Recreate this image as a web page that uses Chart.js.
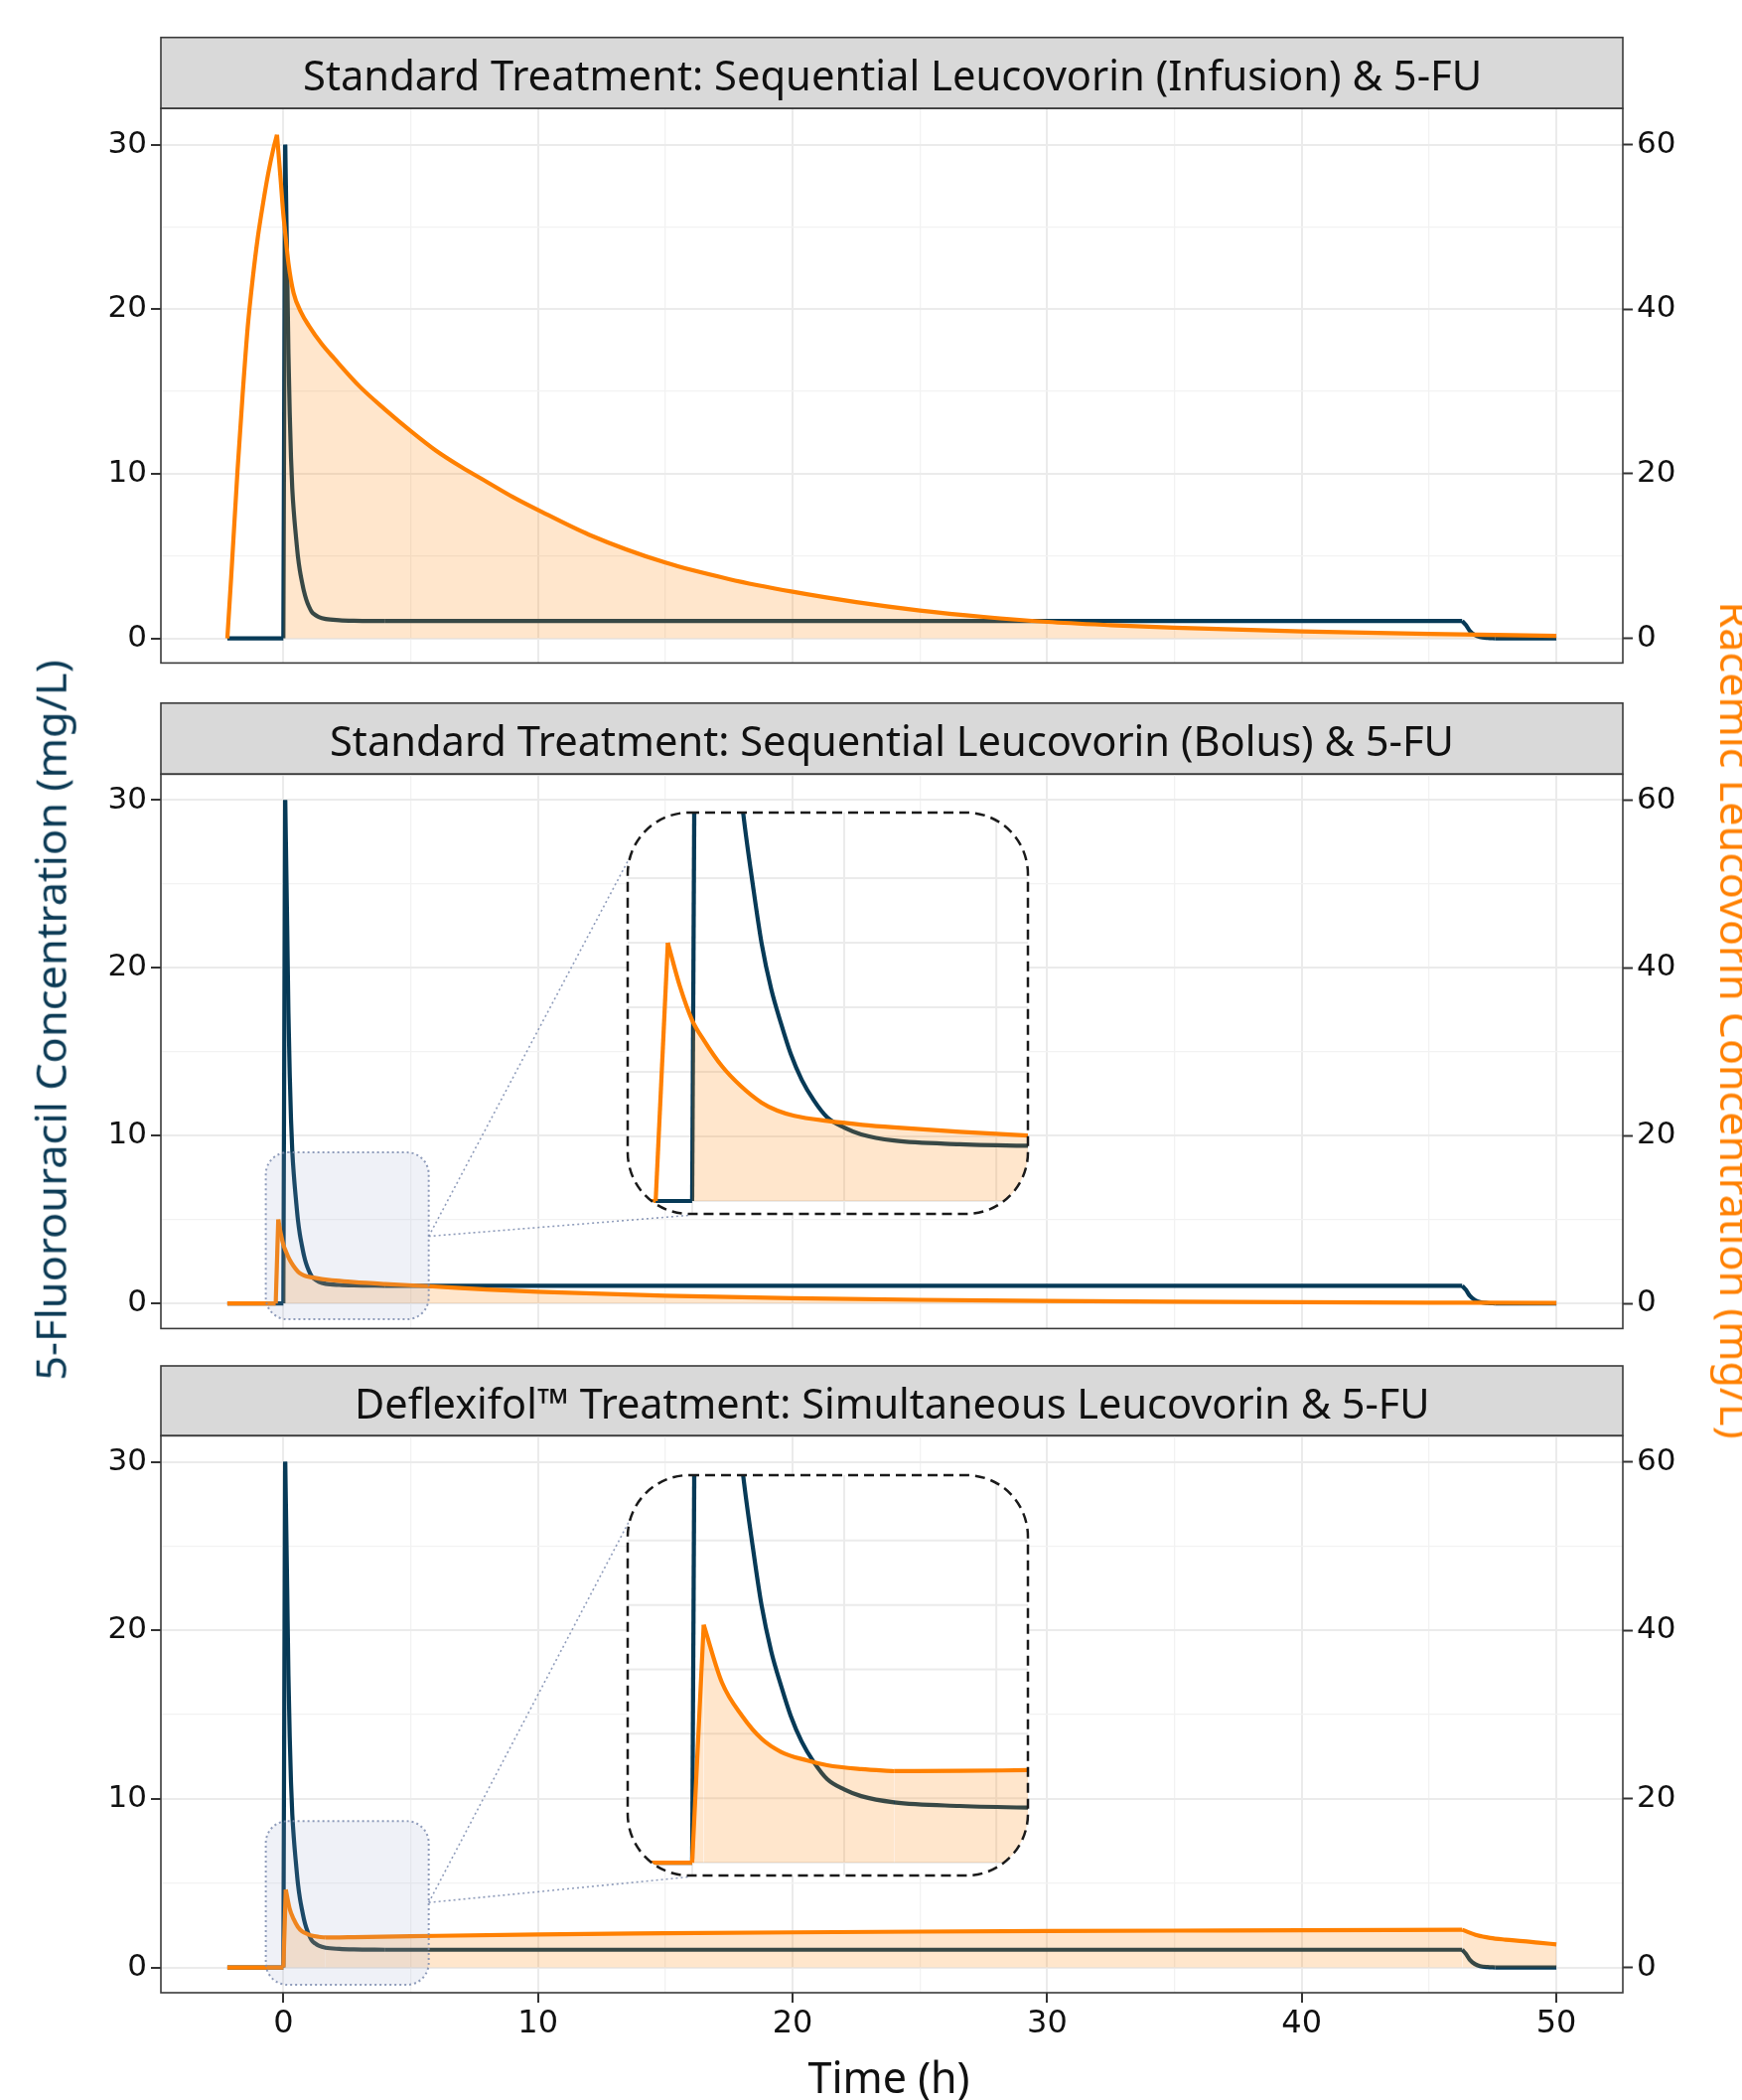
<!DOCTYPE html>
<html>
<head>
<meta charset="utf-8">
<script src="https://cdn.jsdelivr.net/npm/chart.js@4.4.1/dist/chart.umd.min.js"></script>
<style>
html,body{margin:0;padding:0;background:#fff;}
#page{position:relative;width:1754px;height:2114px;overflow:hidden;background:#fff;}
canvas{position:absolute;left:0;}
.txt{position:absolute;white-space:nowrap;font-family:"Noto Sans";line-height:1;transform-origin:50% 50%;z-index:5;}
.strip{font-size:42px;color:#111;}
#yl{font-size:42px;color:#0b3a55;}
#yr{font-size:42px;color:#ff8000;}
#xl{font-size:43px;color:#111;}
</style>
</head>
<body>
<div id="page">
  <canvas id="c1" width="1754" height="690" style="top:0px"></canvas>
  <canvas id="c2" width="1754" height="670" style="top:690px"></canvas>
  <canvas id="c3" width="1754" height="754" style="top:1360px"></canvas>
  <canvas id="i2" width="411" height="412" style="left:628px;top:814px"></canvas>
  <canvas id="i3" width="411" height="411" style="left:628px;top:1481px"></canvas>
  <div id="t1" class="txt strip">Standard Treatment: Sequential Leucovorin (Infusion) &amp; 5-FU</div>
  <div id="t2" class="txt strip">Standard Treatment: Sequential Leucovorin (Bolus) &amp; 5-FU</div>
  <div id="t3" class="txt strip">Deflexifol™ Treatment: Simultaneous Leucovorin &amp; 5-FU</div>
  <div id="yl" class="txt">5-Fluorouracil Concentration (mg/L)</div>
  <div id="yr" class="txt">Racemic Leucovorin Concentration (mg/L)</div>
  <div id="xl" class="txt">Time (h)</div>
</div>
<script>
// ---------------- DATA ----------------
const timeTicks = [0, 10, 20, 30, 40, 50];
const fuTicks = [0, 10, 20, 30];
const lvTicks = [0, 20, 40, 60];
const insetTimeGrid = [0, 1.25, 2.5];
const insetFuGrid = [0, 1.25, 2.5, 3.75, 5, 6.25];

// 5-Fluorouracil (mg/L), same regimen in all panels
const fuTime = [-2.2, 0, 0.07, 0.1, 0.15, 0.2, 0.25, 0.3, 0.35, 0.42, 0.5, 0.57, 0.65, 0.73, 0.81, 0.9, 1.0, 1.11, 1.25, 1.39, 1.66, 2.2, 2.76, 4, 46.3, 46.45, 46.6, 46.8, 47.0, 47.3, 47.6, 50];
const fuConc = [0, 0, 30, 27.5, 22.5, 17.3, 13.7, 11.0, 9.1, 7.5, 6.1, 5.0, 4.1, 3.44, 2.85, 2.35, 1.95, 1.62, 1.42, 1.29, 1.17, 1.10, 1.07, 1.05, 1.05, 0.8, 0.45, 0.2, 0.08, 0.02, 0, 0];

// Racemic leucovorin (mg/L) – infusion
const lvInfTime = [-2.2, -2.05, -1.8, -1.6, -1.4, -1.2, -1.0, -0.8, -0.6, -0.4, -0.25, -0.1, 0, 0.05, 0.2, 0.4, 0.7, 1.0, 1.5, 2, 3, 4, 5, 6, 7, 8, 9, 10, 12, 15, 17.5, 20, 22.5, 25, 27.5, 30, 32.5, 35, 40, 45, 50];
const lvInfConc = [0, 7.4, 20.4, 29.6, 37.8, 43.8, 48.8, 52.8, 56.4, 59.4, 61.2, 55.5, 51.5, 50.0, 45.6, 42.0, 39.6, 38.0, 35.8, 34.0, 30.6, 27.8, 25.2, 22.8, 20.8, 19.0, 17.2, 15.6, 12.6, 9.2, 7.2, 5.66, 4.4, 3.38, 2.6, 2.0, 1.6, 1.28, 0.84, 0.54, 0.3];

// Racemic leucovorin (mg/L) – bolus
const lvBolTime = [-2.2, -0.3, -0.2, -0.1, 0, 0.1, 0.245, 0.4, 0.57, 0.7, 0.84, 1.11, 1.4, 1.66, 2.2, 2.76, 4, 5.7, 8, 10, 15, 20, 25, 30, 35, 40, 45, 50];
const lvBolConc = [0, 0, 10.0, 8.3, 7.0, 6.2, 5.22, 4.45, 3.81, 3.5, 3.30, 3.10, 2.95, 2.85, 2.68, 2.53, 2.3, 2.05, 1.65, 1.38, 0.92, 0.62, 0.42, 0.28, 0.19, 0.13, 0.09, 0.06];

// Racemic leucovorin (mg/L) – Deflexifol simultaneous
const lvSimTime = [-2.2, 0, 0.095, 0.245, 0.41, 0.57, 0.73, 0.94, 1.11, 1.39, 1.66, 2.2, 2.76, 5, 10, 15, 20, 25, 30, 35, 40, 46.3, 46.9, 47.4, 48, 48.7, 49.3, 50];
const lvSimConc = [0, 0, 9.23, 6.99, 5.70, 4.81, 4.30, 3.97, 3.78, 3.63, 3.55, 3.56, 3.59, 3.7, 3.92, 4.05, 4.16, 4.25, 4.32, 4.37, 4.41, 4.47, 3.8, 3.5, 3.3, 3.12, 2.93, 2.74];

// ---------------- STYLE / LAYOUT ----------------
const NAVY = '#073a57';
const ORANGE = '#ff8000';
const FILL = 'rgba(255,128,0,0.2)';
Chart.defaults.font.family = "'DejaVu Sans'";

const withMinor = arr => arr.flatMap((v, i) => i ? [(arr[i - 1] + v) / 2, v] : [v]);
const xGrid = withMinor(timeTicks);
const yGrid = withMinor(fuTicks);
const pts = (t, c) => t.map((x, i) => ({x: x, y: c[i]}));

// split a series where its direction changes so peaks/corners stay sharp
function splitAtCorners(p) {
  const sg = i => Math.sign(p[i + 1].y - p[i].y);
  const segs = [];
  let cur = [p[0]];
  for (let i = 1; i < p.length; i++) {
    cur.push(p[i]);
    if (i < p.length - 1 && sg(i - 1) !== sg(i)) { segs.push(cur); cur = [p[i]]; }
  }
  segs.push(cur);
  return segs;
}

function rr(ctx, x, y, w, h, r) {
  ctx.beginPath();
  ctx.moveTo(x + r, y);
  ctx.arcTo(x + w, y, x + w, y + h, r);
  ctx.arcTo(x + w, y + h, x, y + h, r);
  ctx.arcTo(x, y + h, x, y, r);
  ctx.arcTo(x, y, x + w, y, r);
  ctx.closePath();
}

const INSETS = {
  i2: {left: 632, top: 818, w: 403, h: 404},
  i3: {left: 632, top: 1485, w: 403, h: 403}
};

const panelPlugin = {
  id: 'panelDeco',
  beforeDraw(chart, args, o) {
    const {ctx, chartArea: a} = chart;
    ctx.save();
    ctx.fillStyle = '#d9d9d9';
    ctx.fillRect(a.left, o.stripTop, a.right - a.left, a.top - o.stripTop);
    ctx.strokeStyle = '#3a3a3a';
    ctx.lineWidth = 1.6;
    ctx.strokeRect(a.left, o.stripTop, a.right - a.left, a.top - o.stripTop);
    ctx.restore();
  },
  afterDatasetsDraw(chart, args, o) {
    if (!o.hl) return;
    const {ctx} = chart;
    const sx = chart.scales.x, sy = chart.scales.y;
    const h = o.hl;
    const x0 = sx.getPixelForValue(h.t0), x1 = sx.getPixelForValue(h.t1);
    const y0 = sy.getPixelForValue(h.v1), y1 = sy.getPixelForValue(h.v0);
    ctx.save();
    rr(ctx, x0, y0, x1 - x0, y1 - y0, 22);
    ctx.fillStyle = 'rgba(150,163,198,0.15)';
    ctx.fill();
    ctx.setLineDash([2, 3]);
    ctx.lineWidth = 2;
    ctx.strokeStyle = 'rgba(125,140,175,0.85)';
    ctx.stroke();
    const b = INSETS[o.inset];
    const cy = sy.getPixelForValue(h.vc);
    const off = o.canvasTop;
    ctx.lineWidth = 1.6;
    ctx.beginPath();
    ctx.moveTo(x1, cy); ctx.lineTo(b.left + 8, b.top + 34 - off);
    ctx.moveTo(x1, cy); ctx.lineTo(b.left + 61, b.top + b.h + 1.5 - off);
    ctx.stroke();
    ctx.restore();
  },
  afterDraw(chart) {
    const {ctx, chartArea: a} = chart;
    ctx.save();
    ctx.strokeStyle = '#3a3a3a';
    ctx.lineWidth = 1.6;
    ctx.strokeRect(a.left, a.top, a.right - a.left, a.bottom - a.top);
    ctx.restore();
  }
};

function datasets(lvT, lvC) {
  const ds = [];
  const common = {pointRadius: 0, cubicInterpolationMode: 'monotone'};
  splitAtCorners(pts(lvT, lvC)).forEach(seg => ds.push(Object.assign({
    data: seg, yAxisID: 'y2', borderColor: ORANGE, borderWidth: 4.2, fill: false, order: 0}, common)));
  splitAtCorners(pts(lvT, lvC).filter(p => p.x >= 0)).forEach(seg => ds.push(Object.assign({
    data: seg, yAxisID: 'y2', borderColor: 'rgba(0,0,0,0)', borderWidth: 1, backgroundColor: FILL, fill: 'origin', order: 1}, common)));
  splitAtCorners(pts(fuTime, fuConc)).forEach(seg => ds.push(Object.assign({
    data: seg, yAxisID: 'y', borderColor: NAVY, borderWidth: 4.2, fill: false, order: 2}, common)));
  return ds;
}

function makeMain(p) {
  const isMajX = v => timeTicks.includes(v);
  const isMajY = v => fuTicks.includes(v);
  return new Chart(document.getElementById(p.id), {
    type: 'line',
    data: {datasets: datasets(p.lvT, p.lvC)},
    options: {
      responsive: false, animation: false, devicePixelRatio: 1, events: [],
      layout: {padding: {top: p.padTop, bottom: p.padBottom, left: 0, right: 0}},
      plugins: {
        legend: {display: false}, tooltip: {enabled: false},
        panelDeco: {stripTop: p.stripTop, hl: p.hl, inset: p.inset, canvasTop: p.top}
      },
      scales: {
        x: {
          type: 'linear', min: -4.81, max: 52.61,
          afterBuildTicks: s => { s.ticks = xGrid.map(v => ({value: v})); },
          afterFit: s => { s.height = p.xHeight; },
          border: {display: false},
          grid: {
            color: c => isMajX(c.tick.value) ? '#ebebeb' : '#f2f2f2',
            lineWidth: c => isMajX(c.tick.value) ? 2 : 1.3,
            drawTicks: p.showX, tickLength: 10, tickWidth: 2,
            tickColor: c => isMajX(c.tick.value) ? '#333' : 'rgba(0,0,0,0)'
          },
          ticks: {display: p.showX, autoSkip: false, maxRotation: 0, minRotation: 0, padding: 2,
                  font: {size: 32}, color: '#111', callback: v => isMajX(v) ? String(v) : ''}
        },
        y: {
          position: 'left', min: p.yMin, max: p.yMax,
          afterBuildTicks: s => { s.ticks = yGrid.map(v => ({value: v})); },
          afterFit: s => { s.width = 162; },
          border: {display: false},
          grid: {
            color: c => isMajY(c.tick.value) ? '#ebebeb' : '#f2f2f2',
            lineWidth: c => isMajY(c.tick.value) ? 2 : 1.3,
            tickLength: 10, tickWidth: 2,
            tickColor: c => isMajY(c.tick.value) ? '#333' : 'rgba(0,0,0,0)'
          },
          ticks: {padding: 4, font: {size: 31}, color: '#111', autoSkip: false, callback: v => isMajY(v) ? String(v) : ''}
        },
        y2: {
          position: 'right', min: 2 * p.yMin, max: 2 * p.yMax,
          afterBuildTicks: s => { s.ticks = lvTicks.map(v => ({value: v})); },
          afterFit: s => { s.width = 120; },
          border: {display: false},
          grid: {drawOnChartArea: false, tickLength: 10, tickWidth: 2, tickColor: '#333'},
          ticks: {padding: 4, font: {size: 31}, color: '#111', autoSkip: false, callback: v => String(v)}
        }
      }
    },
    plugins: [panelPlugin]
  });
}

const insetPlugin = {
  id: 'insetFrame',
  beforeDraw(chart) {
    const {ctx, chartArea: a} = chart;
    ctx.save();
    rr(ctx, a.left, a.top, a.right - a.left, a.bottom - a.top, 62);
    ctx.clip();
    ctx.fillStyle = '#fff';
    ctx.fillRect(a.left - 5, a.top - 5, a.right - a.left + 10, a.bottom - a.top + 10);
    ctx.strokeStyle = '#ebebeb';
    ctx.lineWidth = 2;
    insetTimeGrid.forEach(v => {
      const x = chart.scales.x.getPixelForValue(v);
      ctx.beginPath(); ctx.moveTo(x, a.top); ctx.lineTo(x, a.bottom); ctx.stroke();
    });
    insetFuGrid.forEach(v => {
      const y = chart.scales.y.getPixelForValue(v);
      ctx.beginPath(); ctx.moveTo(a.left, y); ctx.lineTo(a.right, y); ctx.stroke();
    });
  },
  afterDraw(chart) {
    const {ctx, chartArea: a} = chart;
    ctx.restore();
    ctx.save();
    ctx.setLineDash([10, 6]);
    ctx.lineWidth = 2.5;
    ctx.strokeStyle = '#1a1a1a';
    rr(ctx, a.left, a.top, a.right - a.left, a.bottom - a.top, 62);
    ctx.stroke();
    ctx.restore();
  }
};

function makeInset(id, lvT, lvC) {
  return new Chart(document.getElementById(id), {
    type: 'line',
    data: {datasets: datasets(lvT, lvC)},
    options: {
      responsive: false, animation: false, devicePixelRatio: 1, events: [],
      layout: {padding: 4},
      plugins: {legend: {display: false}, tooltip: {enabled: false}},
      scales: {
        x: {type: 'linear', min: -0.53, max: 2.76, display: false},
        y: {min: -0.25, max: 7.52, display: false},
        y2: {min: -0.5, max: 15.04, display: false}
      }
    },
    plugins: [insetPlugin]
  });
}

makeMain({id: 'c1', top: 0, padTop: 109.2, padBottom: 20, xHeight: 0, stripTop: 37.7,
          yMin: -1.5, yMax: 32.2, showX: false, lvT: lvInfTime, lvC: lvInfConc});
makeMain({id: 'c2', top: 690, padTop: 89.3, padBottom: 18.5, xHeight: 0, stripTop: 17.8,
          yMin: -1.5, yMax: 31.55, showX: false, lvT: lvBolTime, lvC: lvBolConc,
          hl: {t0: -0.69, t1: 5.71, v0: -0.95, v1: 9.0, vc: 4.0}, inset: 'i2'});
makeMain({id: 'c3', top: 1360, padTop: 85.3, padBottom: 0, xHeight: 108, stripTop: 15,
          yMin: -1.5, yMax: 31.55, showX: true, lvT: lvSimTime, lvC: lvSimConc,
          hl: {t0: -0.69, t1: 5.71, v0: -1.03, v1: 8.68, vc: 3.85}, inset: 'i3'});
makeInset('i2', lvBolTime, lvBolConc);
makeInset('i3', lvSimTime, lvSimConc);

// ---------------- TEXT PLACEMENT ----------------
function place(id, cx, cy, targetW, rot) {
  const el = document.getElementById(id);
  const w = el.offsetWidth, h = el.offsetHeight;
  const k = targetW ? targetW / w : 1;
  el.style.left = (cx - w / 2) + 'px';
  el.style.top = (cy - h / 2) + 'px';
  el.style.transform = 'rotate(' + rot + 'deg) scaleX(' + k + ')';
}
place('t1', 898, 75.2, 1187, 0);
place('t2', 898, 745.2, 1132, 0);
place('t3', 898, 1411.7, 1083, 0);
place('yl', 50.7, 1027, 725, -90);
place('yr', 1748, 1027, 843, 90);
place('xl', 895, 2090, 0, 0);
</script>
</body>
</html>
